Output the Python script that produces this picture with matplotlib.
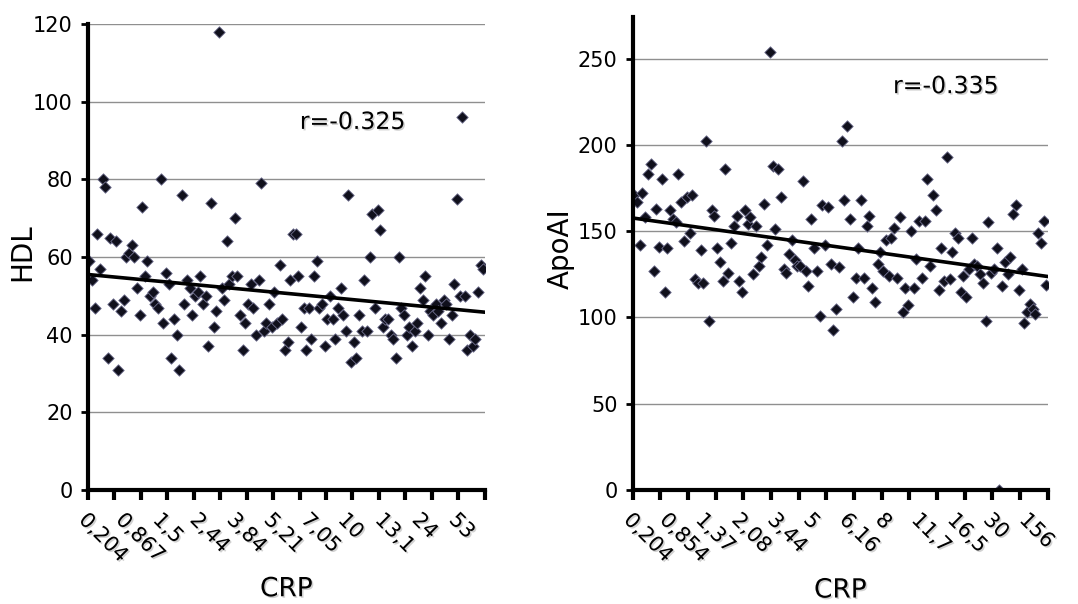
import matplotlib
matplotlib.use("Agg")
import matplotlib.pyplot as plt
import matplotlib.patheffects as pe
import numpy as np

# HDL values, ordered by CRP rank (category axis)
hdl = [59, 54, 47, 66, 57, 80, 78, 34, 65, 48, 64, 31, 46, 49, 60, 61, 63, 60, 52, 45,
       73, 55, 59, 50, 51, 48, 47, 80, 43, 56, 53, 34, 44, 40, 31, 76, 48,
       54, 52, 45, 50, 51, 55, 48, 50, 37, 74, 42, 46, 118, 52, 49, 64, 53, 55, 70, 55,
       45, 36, 43, 48, 53, 47, 40, 54, 79, 41, 43, 48, 42, 51, 43, 58,
       44, 36, 38, 54, 66, 66, 55, 42, 47, 36, 47, 39, 55, 59, 47, 48, 37, 44, 50, 44,
       39, 47, 52, 45, 41, 76, 33, 38, 34, 45, 41, 54, 41, 60, 71, 47,
       72, 67, 42, 44, 44, 40, 39, 34, 60, 47, 45, 40, 42, 37, 41, 43, 52, 49, 55, 40,
       46, 45, 48, 46, 43, 49, 48, 39, 45, 53, 75, 50, 96, 50, 36, 40, 37, 39, 51, 58, 57]

# ApoAI values, ordered by CRP rank
apoai = [171, 167, 142, 172, 158, 183, 189, 127, 163, 141, 180, 115, 140, 162, 157, 155,
         183, 167, 144, 170, 149, 171, 122, 120, 139, 120, 202, 98, 162, 159, 140, 132,
         121, 186, 126,
         143, 153, 159, 121, 115, 162, 154, 158, 125, 153, 130, 135, 166, 142, 254, 188,
         151, 186, 170, 128, 126, 137, 145, 133, 130, 130, 179, 127, 118, 157, 140, 127,
         101, 165, 142,
         164, 131, 93, 105, 129, 202, 168, 211, 157, 112, 123, 140, 168, 123, 153, 159,
         117, 109, 131, 138, 127, 145, 124, 146, 152, 123, 158, 103, 117, 107, 150, 117,
         134, 156, 123, 156, 180, 130,
         171, 162, 116, 140, 121, 193, 122, 138, 149, 146, 115, 124, 112, 128, 146, 131,
         130, 125, 120, 98, 155, 126, 128, 140, 0, 118, 132, 125, 135, 160, 165, 116, 128,
         97, 103, 108, 105, 102, 149, 143, 156, 119]

hdl_labels = ["0,204", "0,867", "1,5", "2,44", "3,84", "5,21", "7,05", "10", "13,1", "24", "53"]
apoai_labels = ["0,204", "0,854", "1,37", "2,08", "3,44", "5", "6,16", "8", "11,7", "16,5", "30", "156"]

hdl_trend = [55.5, 45.8]
apoai_trend = [157.6, 123.7]

shadow = [pe.withSimplePatchShadow(offset=(1.1, -1.1), shadow_rgbFace=(0.6, 0.6, 0.6), alpha=0.45)]


def panel(ax, values, labels, label_step, ymax, ytop, ystep, ylabel, ylab_x, rtext, rpos, trend):
    n = len(values)
    x = np.arange(1, n + 1)
    ax.set_xlim(0.5, n + 0.5)
    ax.set_ylim(0, ytop)

    ax.yaxis.grid(True, color="#8f8f8f", lw=1.0, zorder=0)
    ax.set_axisbelow(True)

    ax.scatter(x, values, marker="D", s=34, c="#10101c", edgecolors="#707090",
               linewidths=0.6, zorder=3)
    ax.plot([0.5, n + 0.5], trend, color="black", lw=2.6, zorder=4)

    for s in ["top", "right"]:
        ax.spines[s].set_visible(False)
    for s in ["left", "bottom"]:
        ax.spines[s].set_linewidth(3)
        ax.spines[s].set_zorder(5)

    ax.set_yticks(np.arange(0, ymax + 1, ystep))
    ax.tick_params(axis="y", direction="out", length=5, width=2, labelsize=15, pad=6)

    ax.set_xticks(np.arange(0.5, n + 1, 10))
    ax.set_xticklabels([])
    ax.tick_params(axis="x", which="major", direction="out", length=7, width=3)
    pos = np.arange(1, n + 1, label_step)[:len(labels)]
    ax.set_xticks(pos, labels, minor=True)
    ax.tick_params(axis="x", which="minor", length=0, pad=14, labelsize=15)
    for t in ax.get_xticklabels(minor=True):
        t.set_rotation(-45)
        t.set_ha("left")
        t.set_va("top")
        t.set_rotation_mode("anchor")
        t.set_path_effects(shadow)

    ax.text(0.5, -0.185, "CRP", transform=ax.transAxes, ha="center", va="top",
            fontsize=19, path_effects=shadow)
    ax.text(ylab_x, 0.51, ylabel, transform=ax.transAxes, ha="center", va="center",
            rotation=90, fontsize=20)
    ax.text(rpos[0], rpos[1], rtext, transform=ax.transAxes, ha="left", va="center",
            fontsize=17, path_effects=shadow)


fig = plt.figure(figsize=(10.78, 6.04), dpi=100)
ax1 = fig.add_axes([0.0816, 0.1887, 0.368, 0.7715])
ax2 = fig.add_axes([0.587, 0.1887, 0.385, 0.783])

panel(ax1, hdl, hdl_labels, 14, 120, 120, 20, "HDL", -0.166, "r=-0.325", (0.534, 0.79), hdl_trend)
panel(ax2, apoai, apoai_labels, 13, 250, 274, 50, "ApoAI", -0.173, "r=-0.335", (0.627, 0.854), apoai_trend)

fig.savefig("out.png", dpi=100)
